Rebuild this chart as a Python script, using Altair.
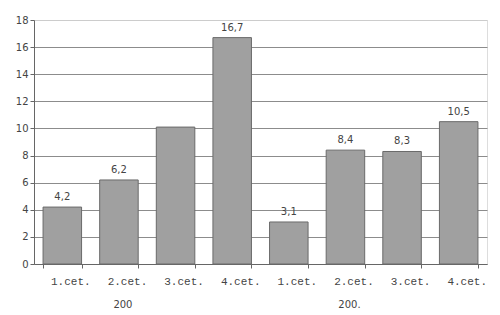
import altair as alt
import pandas as pd

keys = ["a1", "a2", "a3", "a4", "b1", "b2", "b3", "b4"]
quarters = ["1.cet.", "2.cet.", "3.cet.", "4.cet.", "1.cet.", "2.cet.", "3.cet.", "4.cet."]
values = [4.2, 6.2, 10.1, 16.7, 3.1, 8.4, 8.3, 10.5]
labels = ["4,2", "6,2", "", "16,7", "3,1", "8,4", "8,3", "10,5"]
group_keys = ["a2", "b2"]
group_labels = ["200", "200."]
y_ticks = [0, 2, 4, 6, 8, 10, 12, 14, 16, 18]

df = pd.DataFrame({"key": keys, "q": quarters, "v": values, "lab": labels})
gdf = pd.DataFrame({"key": group_keys, "g": group_labels})

label_map = "{" + ",".join(f"'{k}':'{q}'" for k, q in zip(keys, quarters)) + "}"

xaxis = alt.Axis(title=None, labelAngle=0, labelExpr=f"{label_map}[datum.value]",
                 tickBand="extent", labelFont="Liberation Mono", labelFontSize=11,
                 labelColor="#444444", labelPadding=7, labelOffset=8, tickSize=4,
                 domainColor="#666666", tickColor="#666666", grid=False)
xscale = alt.Scale(paddingInner=0.32, paddingOuter=0.16)

yaxis = alt.Axis(title=None, values=y_ticks, labelOverlap=False,
                 labelFont="DejaVu Sans",
                 labelFontSize=10, labelColor="#444444", tickSize=4,
                 domainColor="#666666", tickColor="#666666",
                 gridColor={"condition": {"test": "datum.value == 18", "value": "#cccccc"},
                            "value": "#8c8c8c"},
                 gridOpacity=1)
yscale = alt.Scale(domain=[0, 18], nice=False)

X = alt.X("key:N", sort=keys, scale=xscale, axis=xaxis)

bars = alt.Chart(df).mark_bar(color="#a0a0a0", stroke="#6a6a6a", strokeWidth=1).encode(
    x=X, y=alt.Y("v:Q", scale=yscale, axis=yaxis))

texts = alt.Chart(df).mark_text(baseline="middle", dy=-10, font="DejaVu Sans",
                                fontSize=10, color="#444444").encode(
    x=X, y=alt.Y("v:Q", scale=yscale, axis=yaxis), text="lab:N")

groups = alt.Chart(gdf).mark_text(baseline="middle", font="DejaVu Sans", fontSize=10,
                                  color="#444444", dx=4).encode(
    x=X, y=alt.value(285), text="g:N")

chart = alt.layer(bars, texts, groups).properties(
    width=453, height=244,
    autosize=alt.AutoSizeParams(type="none"),
    padding={"left": 34, "top": 20, "right": 13, "bottom": 51},
).configure_view(stroke="#cccccc").configure(background="white")

chart.save("out.html", embed_options={"renderer": "svg", "actions": False})
